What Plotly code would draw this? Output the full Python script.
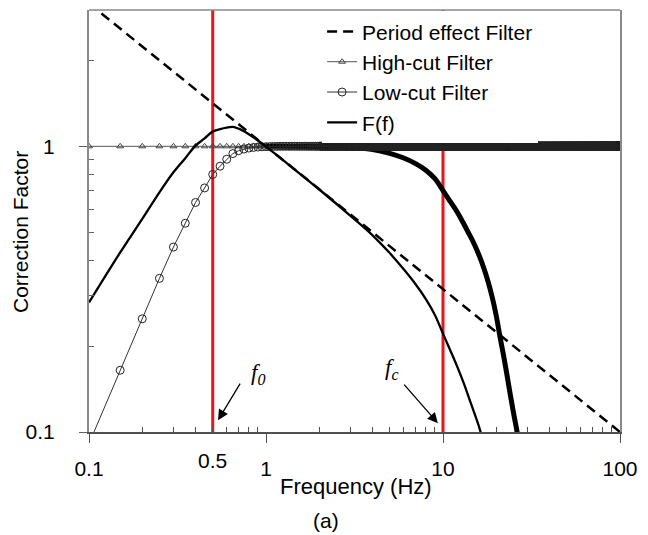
import numpy as np
import plotly.graph_objects as go

# ---- data -------------------------------------------------------------
# sampling grid of the filter markers (0.05 Hz steps from 0.1 to 100 Hz)
GRID_STEP = 0.05
GRID_F = np.round(0.1 + GRID_STEP * np.arange(1999), 2)

# period effect filter (straight line on log-log axes)
PERIOD_F = [0.1, 100.0]
PERIOD_V = [3.162, 0.1]

# low-cut filter read on the grid below 1.2 Hz; flat at 1 afterwards
LOWCUT_HEAD = [0.091, 0.1645, 0.249, 0.345, 0.444, 0.538, 0.636, 0.715, 0.797,
               0.852, 0.901, 0.943, 0.965, 0.978, 0.986, 0.991, 0.994, 0.996,
               0.997, 0.998, 0.999, 0.999]
LOWCUT_V = np.array(LOWCUT_HEAD + [1.0] * (len(GRID_F) - len(LOWCUT_HEAD)))

# high-cut filter: flat part with visible markers, then the roll-off
HIGHCUT_FLAT_F = [0.1, 0.15, 0.2, 0.25, 0.3, 0.35, 0.4, 0.45, 0.5, 0.55, 0.6,
                  0.65, 0.7, 0.75, 0.8, 0.85, 0.9, 0.95, 1.0]
HIGHCUT_FLAT_V = [1.0] * len(HIGHCUT_FLAT_F)
HIGHCUT_F = [1, 2, 3, 4, 5, 6, 7, 8, 9, 10, 11, 12, 13, 14, 15, 16, 17, 18,
             19, 20, 21, 22, 23, 24, 25, 26, 27, 28]
HIGHCUT_V = [1.0, 0.999, 0.99, 0.975, 0.945, 0.91, 0.87, 0.825, 0.77, 0.70,
             0.64, 0.59, 0.54, 0.495, 0.455, 0.415, 0.375, 0.335, 0.295, 0.255,
             0.215, 0.185, 0.158, 0.135, 0.117, 0.103, 0.09, 0.079]

# combined correction factor F(f)
FF_F = [0.1, 0.15, 0.2, 0.25, 0.3, 0.35, 0.4, 0.45, 0.5, 0.55, 0.6, 0.65, 0.7,
        0.75, 0.8, 0.9, 1.0, 1.2, 1.5, 2, 3, 4, 5, 6, 7, 8, 9, 10, 11, 12, 13,
        14, 15, 16, 17]
FF_V = [0.284, 0.425, 0.557, 0.69, 0.811, 0.909, 1.006, 1.066, 1.127, 1.149,
        1.163, 1.169, 1.153, 1.129, 1.102, 1.048, 0.998, 0.913, 0.816, 0.706,
        0.571, 0.488, 0.423, 0.371, 0.329, 0.292, 0.257, 0.221, 0.193, 0.170,
        0.150, 0.132, 0.117, 0.104, 0.091]

# corner frequencies marked by the red lines
F0 = 0.5
FC = 10.0

X_TICKS = [0.1, 1, 10, 100]
X_TICKTEXT = ["0.1", "1", "10", "100"]
Y_TICKS = [0.1, 1]
Y_TICKTEXT = ["0.1", "1"]
X_MINOR = [m * d for d in (0.1, 1, 10) for m in range(2, 10)]
Y_MINOR = [m * 0.1 for m in range(2, 10)] + [2]

Y_TOP = 3.0
FONT = "Liberation Sans, Arial, sans-serif"

fig = go.Figure()

# red marker lines at f0 and fc
for fr in (F0, FC):
    fig.add_trace(go.Scatter(x=[fr, fr], y=[0.1, Y_TOP], mode="lines",
                             line=dict(color="rgb(232,22,22)", width=3),
                             showlegend=False, hoverinfo="skip"))

fig.add_trace(go.Scatter(x=PERIOD_F, y=PERIOD_V, mode="lines",
                         name="Period effect Filter",
                         line=dict(color="black", width=2.5, dash="10px,6px")))

fig.add_trace(go.Scatter(x=HIGHCUT_FLAT_F, y=HIGHCUT_FLAT_V, mode="lines+markers",
                         name="High-cut Filter",
                         line=dict(color="#555555", width=1),
                         marker=dict(symbol="triangle-up-open", size=6,
                                     color="#444444", line=dict(width=1))))
# roll-off of the high-cut filter: densely packed markers form a heavy band
fig.add_trace(go.Scatter(x=HIGHCUT_F, y=HIGHCUT_V, mode="lines",
                         line=dict(color="black", width=5, shape="spline"),
                         showlegend=False, hoverinfo="skip"))

# where the low-cut markers crowd together they merge into a solid band
dense = GRID_F >= 2.0
fig.add_trace(go.Scatter(x=GRID_F[dense], y=LOWCUT_V[dense], mode="lines",
                         line=dict(color="black", width=9),
                         showlegend=False, hoverinfo="skip"))

# low-cut filter markers, drawn in several chunks
edges = [0, 60, 250, 700, 1300, len(GRID_F)]
for i in range(len(edges) - 1):
    a, b = edges[i], min(edges[i + 1] + 1, len(GRID_F))
    fig.add_trace(go.Scatter(x=GRID_F[a:b], y=LOWCUT_V[a:b], mode="lines+markers",
                             name="Low-cut Filter", legendgroup="lowcut",
                             showlegend=(i == 0),
                             line=dict(color="#333333", width=1),
                             marker=dict(symbol="circle-open", size=8,
                                         color="#222222", line=dict(width=1))))

fig.add_trace(go.Scatter(x=FF_F, y=FF_V, mode="lines", name="F(f)",
                         line=dict(color="black", width=2.3, shape="spline")))

axis_font = dict(family=FONT, size=21, color="black")

fig.update_layout(
    width=648, height=535,
    margin=dict(l=89, r=20, t=10, b=103),
    paper_bgcolor="white", plot_bgcolor="white",
    font=axis_font,
    showlegend=True,
    legend=dict(x=0.439, y=0.997, xanchor="left", yanchor="top",
                bgcolor="white", borderwidth=0, font=axis_font,
                tracegroupgap=0, itemwidth=30),
    xaxis=dict(type="log", range=[-1, 2], showgrid=False, zeroline=False,
               showline=True, linecolor="#505050", linewidth=1.5, mirror=False,
               ticks="outside", ticklen=9, tickcolor="#505050",
               tickvals=X_TICKS, ticktext=X_TICKTEXT, tickfont=axis_font,
               ticklabelstandoff=8,
               minor=dict(ticks="inside", ticklen=5, tickcolor="#505050",
                          tickvals=X_MINOR, showgrid=False)),
    xaxis2=dict(type="log", range=[-1, 2], overlaying="x", anchor="y",
                side="bottom", showgrid=False, zeroline=False, showline=False,
                ticks="inside", ticklen=6, tickcolor="#505050",
                tickvals=X_TICKS, showticklabels=False),
    yaxis=dict(type="log", range=[-1, np.log10(Y_TOP)], showgrid=False,
               zeroline=False, showline=True, linecolor="#8a8a8a", linewidth=2,
               mirror=True, ticks="outside", ticklen=8, tickcolor="#606060",
               tickvals=Y_TICKS, ticktext=Y_TICKTEXT, tickfont=axis_font,
               ticklabelstandoff=20,
               minor=dict(ticks="inside", ticklen=5, tickcolor="#606060",
                          tickvals=Y_MINOR, showgrid=False)),
    # light frame line along the top of the plotting area
    shapes=[dict(type="line", xref="paper", yref="paper", x0=0, x1=1, y0=1,
                 y1=1, line=dict(color="#8a8a8a", width=1.5))],
)

ann = []
ann.append(dict(text="Frequency (Hz)", xref="paper", yref="paper",
                x=0.503, y=-0.13, xanchor="center", yanchor="middle",
                showarrow=False, font=dict(family=FONT, size=22, color="black")))
ann.append(dict(text="(a)", xref="paper", yref="paper", x=0.447, y=-0.21,
                xanchor="center", yanchor="middle", showarrow=False,
                font=axis_font))
ann.append(dict(text="Correction Factor", xref="paper", yref="paper",
                x=-0.128, y=0.474, xanchor="center", yanchor="middle",
                textangle=-90, showarrow=False, font=axis_font))
ann.append(dict(text="0.5", xref="x", yref="paper", x=np.log10(F0), y=-0.068,
                xanchor="center", yanchor="middle", showarrow=False,
                font=axis_font))
serif = dict(family="Liberation Serif, Times New Roman, serif", size=23,
             color="black")
ann.append(dict(text="<i>f</i><sub><i>0</i></sub>", xref="paper", yref="paper",
                x=0.319, y=0.137, xanchor="center", yanchor="middle",
                showarrow=False, font=serif))
ann.append(dict(text="<i>f</i><sub><i>c</i></sub>", xref="paper", yref="paper",
                x=0.570, y=0.149, xanchor="center", yanchor="middle",
                showarrow=False, font=serif))
# arrows pointing at the two corner frequencies
ann.append(dict(text="", xref="paper", yref="paper", x=0.243, y=0.028,
                ax=23, ay=-38, showarrow=True, arrowhead=2, arrowsize=1.6,
                arrowwidth=1.3, arrowcolor="black"))
ann.append(dict(text="", xref="paper", yref="paper", x=0.657, y=0.021,
                ax=-35, ay=-40, showarrow=True, arrowhead=2, arrowsize=1.6,
                arrowwidth=1.3, arrowcolor="black"))
fig.update_layout(annotations=ann)

fig.write_html("out.html")
